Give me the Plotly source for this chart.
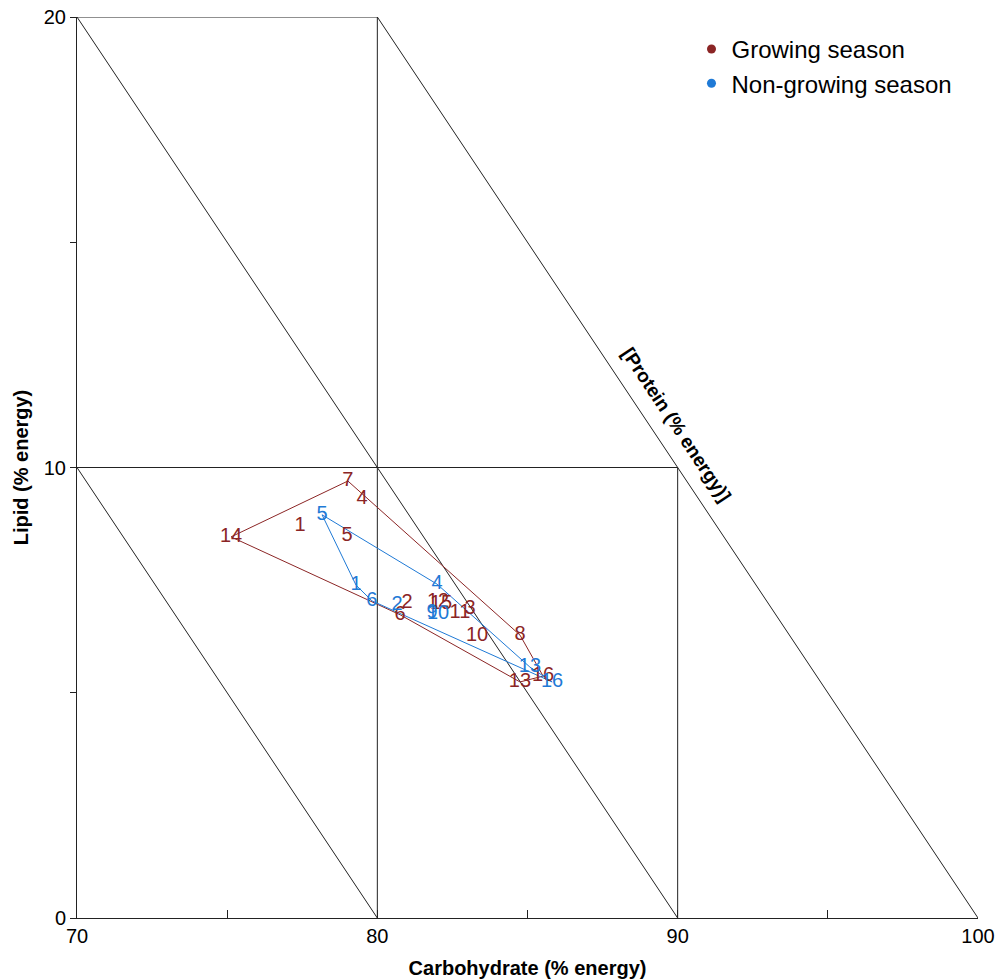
import plotly.graph_objects as go

# ---------------- data ----------------
grow_ids = ["1", "2", "3", "4", "5", "6", "7", "8", "10", "11", "12", "13", "14", "15", "16"]
grow_carb = [77.43, 80.99, 83.09, 79.49, 78.99, 80.76, 79.02, 84.75, 83.32, 82.75, 82.02, 84.75, 75.13, 82.12, 85.52]
grow_lipid = [8.70, 6.99, 6.86, 9.30, 8.48, 6.73, 9.70, 6.28, 6.26, 6.77, 7.01, 5.24, 8.46, 6.97, 5.37]
grow_hull = ["14", "7", "8", "16", "13", "6", "14"]

nong_ids = ["1", "2", "4", "5", "6", "9", "10", "13", "16"]
nong_carb = [79.29, 80.66, 81.99, 78.16, 79.82, 81.82, 82.02, 85.08, 85.82]
nong_lipid = [7.39, 6.95, 7.41, 8.95, 7.04, 6.77, 6.75, 5.57, 5.24]
nong_hull = ["5", "4", "13", "16", "6", "1", "5"]

carb_range = [70, 100]
lipid_range = [0, 20]
carb_ticks = [70, 75, 80, 85, 90, 95, 100]
carb_ticklabels = ["70", "", "80", "", "90", "", "100"]
lipid_ticks = [0, 5, 10, 15, 20]
lipid_ticklabels = ["0", "", "10", "", "20"]
grid_carb = [80, 90]
grid_lipid = [10, 20]
protein_levels = [0, 10, 20]

RED = "#8b2525"
BLUE = "#1f7ad6"
FONT = "Liberation Sans, Arial, sans-serif"

fig = go.Figure()

# structural lines (ternary-style grid)
line_style = dict(color="#222222", width=1)
for c in grid_carb:
    top = min(lipid_range[1], 100 - c)
    fig.add_trace(go.Scatter(x=[c, c], y=[0, top], mode="lines", line=line_style,
                             showlegend=False, hoverinfo="skip"))
for l in grid_lipid:
    right = min(carb_range[1], 100 - l)
    fig.add_trace(go.Scatter(x=[carb_range[0], right], y=[l, l], mode="lines", line=line_style,
                             showlegend=False, hoverinfo="skip"))
for p in protein_levels:
    s = 100 - p  # carb + lipid = s
    x0 = max(carb_range[0], s - lipid_range[1])
    x1 = min(carb_range[1], s - lipid_range[0])
    fig.add_trace(go.Scatter(x=[x0, x1], y=[s - x0, s - x1], mode="lines", line=line_style,
                             showlegend=False, hoverinfo="skip"))


def hull_xy(ids, xs, ys, order):
    lut = {i: (a, b) for i, a, b in zip(ids, xs, ys)}
    return [lut[k][0] for k in order], [lut[k][1] for k in order]


hx, hy = hull_xy(grow_ids, grow_carb, grow_lipid, grow_hull)
fig.add_trace(go.Scatter(x=hx, y=hy, mode="lines", line=dict(color=RED, width=1),
                         showlegend=False, hoverinfo="skip"))
hx, hy = hull_xy(nong_ids, nong_carb, nong_lipid, nong_hull)
fig.add_trace(go.Scatter(x=hx, y=hy, mode="lines", line=dict(color=BLUE, width=1),
                         showlegend=False, hoverinfo="skip"))

fig.add_trace(go.Scatter(x=grow_carb, y=grow_lipid, text=grow_ids, mode="text",
                         textfont=dict(color=RED, size=20, family=FONT),
                         textposition="middle center", showlegend=False))
fig.add_trace(go.Scatter(x=nong_carb, y=nong_lipid, text=nong_ids, mode="text",
                         textfont=dict(color=BLUE, size=20, family=FONT),
                         textposition="middle center", showlegend=False))

# legend entries
fig.add_trace(go.Scatter(x=[None], y=[None], mode="markers", name="Growing season",
                         marker=dict(color=RED, size=9)))
fig.add_trace(go.Scatter(x=[None], y=[None], mode="markers", name="Non-growing season",
                         marker=dict(color=BLUE, size=9)))

fig.add_annotation(x=89.95, y=10.95, xref="x", yref="y", text="<b>[Protein (% energy)]</b>",
                   showarrow=False, textangle=56.34,
                   font=dict(size=19, color="black", family=FONT))

fig.update_layout(
    width=998, height=980,
    margin=dict(l=77, r=20, t=17, b=62, autoexpand=False),
    paper_bgcolor="white", plot_bgcolor="white",
    font=dict(family=FONT, color="black"),
    showlegend=True,
    legend=dict(x=0.682, y=0.989, xanchor="left", yanchor="top",
                font=dict(size=24, family=FONT, color="black"),
                bgcolor="rgba(0,0,0,0)", itemwidth=30, tracegroupgap=0),
    xaxis=dict(range=carb_range, tickvals=carb_ticks, ticktext=carb_ticklabels,
               ticks="inside", ticklen=8, tickcolor="#222222", automargin=False,
               ticklabeloverflow="allow",
               showgrid=False, zeroline=False, showline=True, linecolor="#222222", linewidth=1,
               tickfont=dict(size=20, family=FONT),
               title=dict(text="<b>Carbohydrate (% energy)</b>", font=dict(size=20, family=FONT), standoff=14)),
    yaxis=dict(range=lipid_range, tickvals=lipid_ticks, ticktext=lipid_ticklabels,
               ticks="outside", ticklen=6, tickcolor="#222222", automargin=False,
               ticklabeloverflow="allow",
               showgrid=False, zeroline=False, showline=True, linecolor="#222222", linewidth=1,
               tickfont=dict(size=20, family=FONT),
               title=dict(text="<b>Lipid (% energy)</b>", font=dict(size=20, family=FONT), standoff=9)),
)

fig.write_html("out.html", config={"displayModeBar": False},
               post_script="document.body.style.margin='0';")
